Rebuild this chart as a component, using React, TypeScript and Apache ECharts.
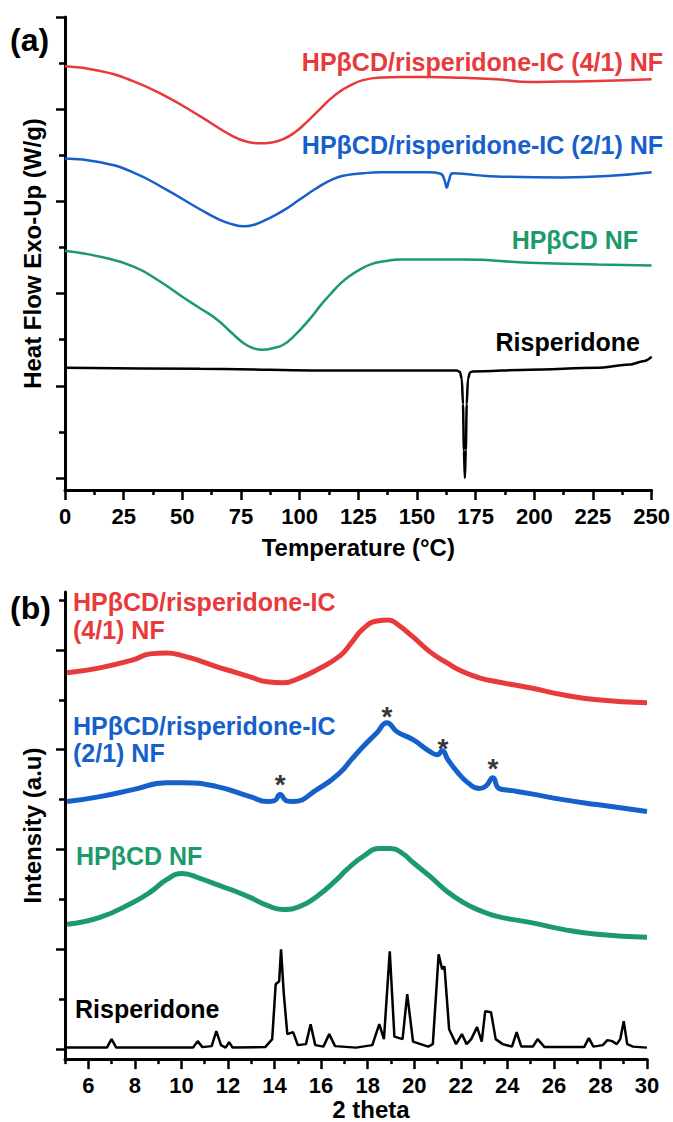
import React, { useEffect, useRef } from 'react';
import * as echarts from 'echarts';

const FONT = '"Liberation Sans", Arial, Helvetica, sans-serif';
const RED = '#E8393B';
const BLUE = '#1660CC';
const GREEN = '#1C9A6C';
const BLACK = '#000000';

// ---------- (a) DSC ----------
const dscTicksMajor = [0, 2, 4, 6, 8, 10];
const dscTicksMinor = [1, 3, 5, 7, 9];

const dscIC41: number[][] = [
  [0, 8.93], [15, 8.83], [29, 8.61], [43, 8.28], [57.5, 7.85], [71.6, 7.41], [78, 7.29],
  [83, 7.26], [88, 7.28], [93, 7.35], [98, 7.50], [103, 7.72], [108, 7.97], [113, 8.22],
  [117, 8.38], [121, 8.50], [127, 8.63], [135, 8.69], [143, 8.70], [155, 8.70], [170, 8.68],
  [184, 8.65], [198, 8.59], [212, 8.60], [227, 8.61], [250, 8.65],
];
const dscIC21: number[][] = [
  [0, 6.93], [15, 6.85], [29, 6.63], [43, 6.26], [57.5, 5.83], [66, 5.60], [71.6, 5.50],
  [76, 5.46], [81, 5.50], [86, 5.61], [93, 5.80], [100, 6.04], [107, 6.28], [114, 6.48],
  [120, 6.57], [127, 6.61], [134, 6.63], [155, 6.63], [160, 6.60], [161.8, 6.45],
  [162.7, 6.30], [163.6, 6.45], [165.3, 6.61], [175, 6.57], [184, 6.54], [212, 6.52],
  [250, 6.63],
];
const dscHPBCD: number[][] = [
  [0, 4.93], [15, 4.80], [29, 4.59], [40, 4.28], [50, 3.93], [57, 3.70], [65, 3.43],
  [71, 3.15], [76, 2.93], [80, 2.82], [84.3, 2.78], [89, 2.82], [93, 2.89], [98, 3.10],
  [104, 3.43], [109, 3.75], [113, 3.98], [117, 4.20], [121, 4.37], [126, 4.53], [130, 4.63],
  [136, 4.70], [143, 4.74], [170, 4.74], [198, 4.67], [227, 4.63], [250, 4.61],
];
const dscRisperidone: number[][] = [
  [0, 2.39], [57.5, 2.37], [117.1, 2.33], [167.0, 2.33], [168.3, 2.30], [169.1, 2.15],
  [169.6, 1.6], [170.0, 0.6], [170.4, 0], [170.8, 0.6], [171.2, 1.6], [171.7, 2.15],
  [172.6, 2.29], [173.8, 2.31], [198.0, 2.35], [226.6, 2.39], [240.6, 2.46], [247.0, 2.54],
  [250, 2.63],
];

// ---------- (b) XRD ----------
const xrdThetaMajor = [6, 8, 10, 12, 14, 16, 18, 20, 22, 24, 26, 28, 30];
const xrdThetaMinor = [5, 7, 9, 11, 13, 15, 17, 19, 21, 23, 25, 27, 29];
const xrdTicksMajor = [0, 2, 4, 6, 8];
const xrdTicksMinor = [1, 3, 5, 7, 9];

const xrdIC41: number[][] = [
  [5.09, 7.54], [6.5, 7.64], [7.92, 7.80], [8.65, 7.92], [9.38, 7.94], [10.07, 7.88],
  [10.8, 7.78], [11.53, 7.66], [12.25, 7.56], [12.95, 7.46], [13.68, 7.36], [14.36, 7.34],
  [15.1, 7.44], [15.82, 7.60], [16.81, 7.88], [17.3, 8.14], [17.8, 8.42], [18.4, 8.58],
  [18.9, 8.60], [19.26, 8.52], [19.95, 8.26], [20.68, 7.96], [21.41, 7.74], [22.1, 7.56],
  [22.8, 7.44], [23.56, 7.36], [24.97, 7.24], [26.39, 7.10], [27.85, 7.00], [30.0, 6.94],
];
const xrdIC21: number[][] = [
  [5.09, 4.96], [6.5, 5.06], [7.92, 5.20], [9.38, 5.34], [10.07, 5.34], [11.53, 5.26],
  [12.95, 5.06], [13.68, 4.96], [14.0, 4.98], [14.24, 5.10], [14.5, 4.98], [14.79, 4.96],
  [15.82, 5.20], [16.81, 5.54], [17.3, 5.80], [17.8, 6.06], [18.4, 6.34], [18.83, 6.54],
  [19.26, 6.36], [19.95, 6.20], [20.68, 5.96], [21.0, 5.90], [21.2, 5.98], [21.45, 5.80],
  [21.84, 5.56], [22.3, 5.34], [22.8, 5.22], [23.1, 5.28], [23.38, 5.44], [23.65, 5.22],
  [24.2, 5.18], [24.97, 5.12], [26.39, 5.00], [27.85, 4.90], [30.0, 4.76],
];
const xrdHPBCD: number[][] = [
  [5.09, 2.50], [6.5, 2.64], [7.92, 2.94], [8.65, 3.14], [9.38, 3.40], [10.03, 3.52],
  [10.8, 3.42], [11.5, 3.30], [12.22, 3.18], [12.95, 3.04], [13.68, 2.88], [14.36, 2.80],
  [15.09, 2.86], [15.82, 3.06], [16.68, 3.40], [17.11, 3.60], [17.8, 3.86], [18.53, 4.02],
  [19.0, 4.02], [19.5, 3.92], [19.95, 3.74], [20.68, 3.46], [21.41, 3.16], [22.1, 2.94],
  [22.8, 2.78], [23.56, 2.66], [24.97, 2.54], [26.39, 2.40], [27.85, 2.30], [30.0, 2.24],
];
const xrdRisperidone: number[][] = [
  [5.0, 0.03], [6.8, 0.03], [7.0, 0.2], [7.2, 0.03], [10.5, 0.03], [10.7, 0.16], [10.9, 0.04],
  [11.3, 0.06], [11.5, 0.36], [11.7, 0.08], [11.9, 0.03], [12.05, 0.14], [12.2, 0.03],
  [13.6, 0.04], [13.9, 0.2], [14.05, 1.3], [14.2, 1.36], [14.28, 2.0], [14.4, 1.1],
  [14.55, 0.3], [14.8, 0.34], [15.0, 0.08], [15.35, 0.1], [15.55, 0.5], [15.75, 0.08],
  [16.1, 0.05], [16.35, 0.3], [16.6, 0.06], [17.5, 0.03], [18.2, 0.08], [18.5, 0.5],
  [18.7, 0.2], [18.95, 1.96], [19.15, 0.25], [19.5, 0.2], [19.7, 1.1], [19.95, 0.15],
  [20.6, 0.05], [20.8, 0.1], [21.05, 1.9], [21.2, 1.6], [21.3, 1.66], [21.5, 0.4],
  [21.8, 0.1], [22.05, 0.3], [22.25, 0.1], [22.45, 0.2], [22.7, 0.44], [22.9, 0.15],
  [23.05, 0.76], [23.3, 0.74], [23.5, 0.2], [23.8, 0.1], [24.2, 0.05], [24.4, 0.34],
  [24.6, 0.05], [25.1, 0.05], [25.3, 0.2], [25.6, 0.04], [27.3, 0.04], [27.5, 0.22],
  [27.7, 0.05], [28.1, 0.08], [28.3, 0.18], [28.5, 0.16], [28.7, 0.1], [28.85, 0.2],
  [29.0, 0.56], [29.15, 0.1], [29.4, 0.05], [30.0, 0.03],
];
const xrdAsterisks: number[][] = [
  [14.24, 5.3], [18.83, 6.66], [21.24, 6.02], [23.38, 5.62],
];

const tickStyle = { color: BLACK, width: 2.5 };
const axisLineStyle = { show: true, onZero: false, lineStyle: { color: BLACK, width: 3 } };
const labelStyle = { color: BLACK, fontSize: 22, fontWeight: 'bold', fontFamily: FONT };
const nameStyle = { color: BLACK, fontSize: 24, fontWeight: 'bold', fontFamily: FONT };

function txt(text: string, x: number, y: number, fill: string, align: string, size = 25, lineHeight = 27) {
  return {
    type: 'text',
    x,
    y,
    style: {
      text,
      fill,
      fontSize: size,
      fontWeight: 'bold',
      fontFamily: FONT,
      align,
      verticalAlign: 'middle',
      lineHeight,
    },
  };
}

export default function App() {
  const ref = useRef<HTMLDivElement>(null);
  useEffect(() => {
    document.body.style.margin = '0';
    const chart = echarts.init(ref.current as HTMLDivElement, null, { renderer: 'svg' });
    const option: any = {
      animation: false,
      backgroundColor: '#ffffff',
      grid: [
        { left: 65, top: 17, width: 587, height: 473 },
        { left: 65, top: 592, width: 582, height: 468 },
      ],
      xAxis: [
        {
          gridIndex: 0, type: 'value', position: 'bottom', min: 0, max: 250, interval: 25,
          axisLine: axisLineStyle,
          axisTick: { show: true, length: 10, lineStyle: tickStyle },
          minorTick: { show: true, splitNumber: 2, length: 5, lineStyle: tickStyle },
          splitLine: { show: false },
          axisLabel: { ...labelStyle, margin: 15 },
          name: 'Temperature (°C)', nameLocation: 'middle', nameGap: 45, nameTextStyle: nameStyle,
        },
        {
          gridIndex: 1, type: 'value', position: 'bottom', min: 5, max: 30,
          axisLine: axisLineStyle,
          axisTick: { show: true, length: 10, lineStyle: tickStyle, customValues: xrdThetaMajor },
          splitLine: { show: false },
          axisLabel: { ...labelStyle, margin: 15, customValues: xrdThetaMajor },
          name: '2 theta', nameLocation: 'middle', nameGap: 36,
          nameTextStyle: { ...nameStyle, padding: [0, 0, 0, 30] },
        },
        {
          gridIndex: 1, type: 'value', position: 'bottom', min: 5, max: 30,
          axisLine: { show: false, onZero: false },
          axisTick: { show: true, length: 5, lineStyle: tickStyle, customValues: xrdThetaMinor },
          splitLine: { show: false },
          axisLabel: { show: false },
        },
      ],
      yAxis: [
        {
          gridIndex: 0, type: 'value', position: 'left', min: -0.26, max: 10,
          axisLine: axisLineStyle,
          axisTick: { show: true, length: 9, lineStyle: tickStyle, customValues: dscTicksMajor },
          splitLine: { show: false },
          axisLabel: { show: false },
          name: 'Heat Flow Exo-Up (W/g)', nameLocation: 'middle', nameGap: 21, nameTextStyle: nameStyle,
        },
        {
          gridIndex: 0, type: 'value', position: 'left', min: -0.26, max: 10,
          axisLine: { show: false, onZero: false },
          axisTick: { show: true, length: 6, lineStyle: tickStyle, customValues: dscTicksMinor },
          splitLine: { show: false },
          axisLabel: { show: false },
        },
        {
          gridIndex: 1, type: 'value', position: 'left', min: -0.2, max: 9.16,
          axisLine: axisLineStyle,
          axisTick: { show: true, length: 9, lineStyle: tickStyle, customValues: xrdTicksMajor },
          splitLine: { show: false },
          axisLabel: { show: false },
          name: 'Intensity (a.u)', nameLocation: 'middle', nameGap: 21, nameTextStyle: nameStyle,
        },
        {
          gridIndex: 1, type: 'value', position: 'left', min: -0.2, max: 9.16,
          axisLine: { show: false, onZero: false },
          axisTick: { show: true, length: 6, lineStyle: tickStyle, customValues: xrdTicksMinor },
          splitLine: { show: false },
          axisLabel: { show: false },
        },
      ],
      series: [
        { type: 'line', xAxisIndex: 0, yAxisIndex: 0, data: dscIC41, showSymbol: false, smooth: 0.5, lineStyle: { color: RED, width: 2.5 } },
        { type: 'line', xAxisIndex: 0, yAxisIndex: 0, data: dscIC21, showSymbol: false, smooth: 0.5, lineStyle: { color: BLUE, width: 2.5 } },
        { type: 'line', xAxisIndex: 0, yAxisIndex: 0, data: dscHPBCD, showSymbol: false, smooth: 0.5, lineStyle: { color: GREEN, width: 2.5 } },
        { type: 'line', xAxisIndex: 0, yAxisIndex: 0, data: dscRisperidone, showSymbol: false, smooth: 0.3, smoothMonotone: 'x', lineStyle: { color: BLACK, width: 2.5 } },
        { type: 'line', xAxisIndex: 1, yAxisIndex: 2, data: xrdIC41, showSymbol: false, smooth: 0.5, lineStyle: { color: RED, width: 5 } },
        { type: 'line', xAxisIndex: 1, yAxisIndex: 2, data: xrdIC21, showSymbol: false, smooth: 0.5, lineStyle: { color: BLUE, width: 5 } },
        { type: 'line', xAxisIndex: 1, yAxisIndex: 2, data: xrdHPBCD, showSymbol: false, smooth: 0.5, lineStyle: { color: GREEN, width: 5 } },
        { type: 'line', xAxisIndex: 1, yAxisIndex: 2, data: xrdRisperidone, showSymbol: false, smooth: false, lineStyle: { color: BLACK, width: 2.5 } },
        {
          type: 'scatter', xAxisIndex: 1, yAxisIndex: 2, data: xrdAsterisks, symbolSize: 1,
          itemStyle: { color: 'rgba(0,0,0,0)' },
          label: { show: true, position: 'inside', formatter: '*', color: BLACK, fontSize: 28, fontWeight: 'bold', fontFamily: FONT },
        },
      ],
      graphic: [
        txt('(a)', 10, 40, BLACK, 'left', 32),
        txt('HPβCD/risperidone-IC (4/1) NF', 663, 62, RED, 'right'),
        txt('HPβCD/risperidone-IC (2/1) NF', 663, 145, BLUE, 'right'),
        txt('HPβCD NF', 638, 240, GREEN, 'right'),
        txt('Risperidone', 640, 342, BLACK, 'right'),
        txt('(b)', 10, 608, BLACK, 'left', 32),
        txt('HPβCD/risperidone-IC\n(4/1) NF', 73, 616, RED, 'left', 25, 28),
        txt('HPβCD/risperidone-IC\n(2/1) NF', 73, 739, BLUE, 'left', 25, 27),
        txt('HPβCD NF', 76, 856, GREEN, 'left'),
        txt('Risperidone', 75, 1009, BLACK, 'left'),
      ],
    };
    chart.setOption(option);
    return () => chart.dispose();
  }, []);
  return <div ref={ref} style={{ position: 'absolute', left: 0, top: 0, width: 673, height: 1122 }} />;
}
